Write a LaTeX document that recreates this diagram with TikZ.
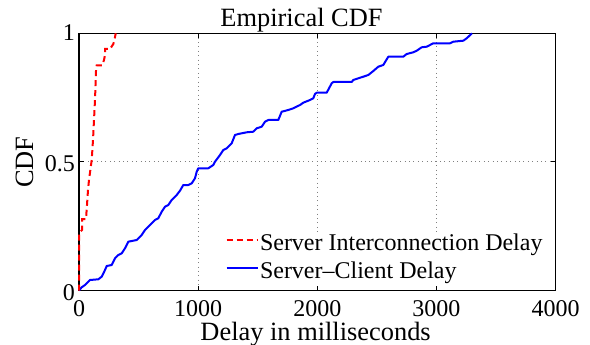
\documentclass[tikz,border=0pt]{standalone}
\usepackage{fontspec}
\setmainfont{Liberation Serif}
\begin{document}
\begin{tikzpicture}[x=1pt,y=-1pt,
  every node/.style={inner sep=0pt, outer sep=0pt},
  ticklbl/.style={font=\fontsize{24}{28}\selectfont},
  biglbl/.style={font=\fontsize{26.4}{30}\selectfont},
  gridln/.style={draw=black!50, line width=0.9pt, dash pattern=on 1pt off 3.4pt},
  axisln/.style={draw=black, line width=1.1pt},
  tickln/.style={draw=black, line width=1.1pt},
  redcurve/.style={draw=red, line width=2pt, dash pattern=on 6pt off 4pt},
  bluecurve/.style={draw=blue, line width=2pt, line join=round},
]
\useasboundingbox (0,0) rectangle (590,345);

% grid
\foreach \gx in {198.1,317.25,436.4}
  \draw[gridln] (\gx,33.3) -- (\gx,290.5);
\draw[gridln] (79,161.9) -- (555.5,161.9);

% axis box
\draw[axisln] (79,33.3) rectangle (555.5,290.5);
% ticks
\foreach \gx in {198.1,317.25,436.4}{
  \draw[tickln] (\gx,290.5) -- (\gx,285.5);
  \draw[tickln] (\gx,33.3) -- (\gx,38.3);
}
\draw[tickln] (79,161.9) -- (84,161.9);
\draw[tickln] (555.5,161.9) -- (550.5,161.9);

% tick labels
\node[ticklbl, anchor=east] (y0) at (75,293) {0};
\node[ticklbl, anchor=east] (y05) at (75,164) {0.5};
\node[ticklbl, anchor=east] (y1) at (75,33) {1};
\node[ticklbl, anchor=north] (x0) at (79,301) {0};
\node[ticklbl, anchor=north] (x1000) at (198.1,301) {1000};
\node[ticklbl, anchor=north] (x2000) at (317.25,301) {2000};
\node[ticklbl, anchor=north] (x3000) at (436.4,301) {3000};
\node[ticklbl, anchor=north] (x4000) at (555.5,301) {4000};

% labels
\node[biglbl, anchor=base] (title) at (301.5,27) {Empirical CDF};
\node[biglbl, anchor=base] (xlab) at (315.6,340) {Delay in milliseconds};
\node[biglbl, rotate=90] (ylab) at (24.5,162) {CDF};

% curves
\draw[bluecurve] plot coordinates {
(79,290.5) (81.7,287.3) (85,285) (90,280) (98.3,279.3) (101.7,276.7) (105,270)
(106.7,266) (111.7,265) (115,258.3) (118.3,255) (121.7,253.3) (125,248.3)
(128.3,241.7) (136.7,240) (141.7,235) (145,230) (150,225) (155,220) (158.3,218.3)
(161.7,211.7) (165,206.7) (168.3,205) (171.7,200) (176.7,195) (180,190.7)
(183.3,185) (188.3,185) (191.7,183.3) (195,178.3) (196.7,171.7) (198.3,168.3)
(208.3,168.3) (213.3,165) (215,161.7) (220,155) (223.3,150) (226.7,148.3)
(231.7,143.3) (235,135) (238.3,134) (246.7,132.3) (253.3,131.7) (256.7,128.3)
(261.7,126.7) (265,121.7) (268.3,120) (278.3,120) (281.7,111.7) (288.3,110)
(293.3,108.3) (300,105) (303.3,102.7) (310,100) (313.3,98.3) (315,94)
(316.7,92.7) (326.7,92.7) (331.7,83.3) (333.3,82) (351.7,82) (353.3,80)
(358.3,78.3) (363.3,76.7) (368.3,75) (373.3,71) (378.3,66.7) (383.3,65)
(388.3,56.7) (403.3,56.7) (406.7,54) (413.3,52.3) (416.7,50.7) (421.7,47.3)
(426.7,46.7) (430,45) (433.3,43.3) (450,43.3) (453.3,41.7) (463.3,40.7)
(466.7,38.3) (472,33.3)};

\draw[redcurve] plot coordinates {
(79,290.5) (79,233) (82,230) (82,219) (86,219) (87,205) (88,190) (89,180)
(91.7,160) (93,140) (94,120) (95,100) (95.7,80) (96,71) (96.7,65.3) (102.3,65.3)
(104,60) (105,55) (105,49) (110,49) (113.3,44) (114.5,40) (115.7,33.3)};

% legend
\fill[white] (205,232) rectangle (552,285);
\coordinate (lr1) at (226.7,240);
\coordinate (lr2) at (258.3,240);
\coordinate (lb1) at (226.7,268.3);
\coordinate (lb2) at (258.3,268.3);
\draw[redcurve] (lr1) -- (lr2);
\draw[bluecurve] (lb1) -- (lb2);
\node[ticklbl, anchor=base west] (leg1) at (260,250) {Server Interconnection Delay};
\node[ticklbl, anchor=base west] (leg2) at (260,278) {Server–Client Delay};
\end{tikzpicture}
\end{document}
